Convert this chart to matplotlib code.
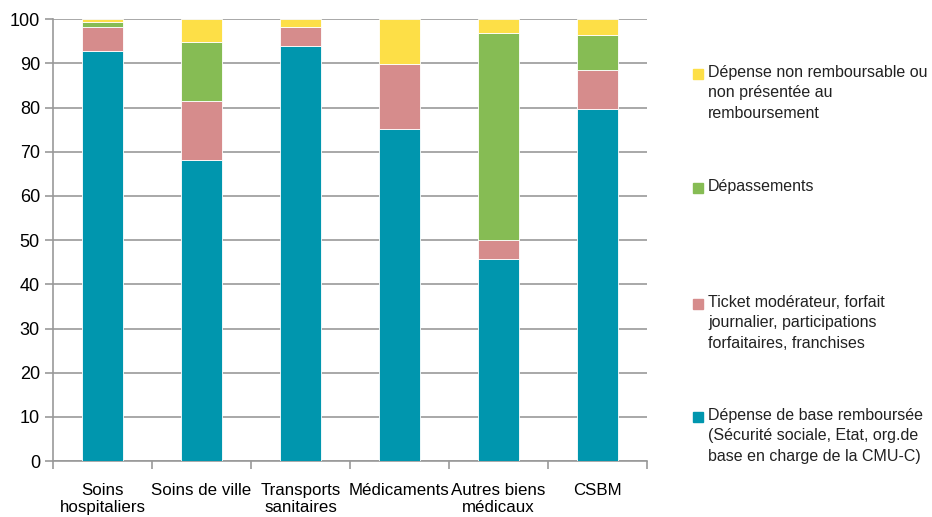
import numpy as np
import matplotlib.pyplot as plt
from matplotlib.patches import Rectangle

plt.rcParams['font.family'] = ['Liberation Sans', 'DejaVu Sans']

categories = ["Soins\nhospitaliers", "Soins de ville", "Transports\nsanitaires",
              "Médicaments", "Autres biens\nmédicaux", "CSBM"]
base_rembourse = [92.8, 68.1, 94.0, 75.1, 45.7, 79.7]
ticket_moderateur = [5.4, 13.3, 4.2, 14.8, 4.3, 8.9]
depassements = [1.1, 13.4, 0.0, 0.0, 46.9, 7.8]
non_remboursable = [0.7, 5.2, 1.8, 10.1, 3.1, 3.6]

series = [
    (base_rembourse, "#0096AE",
     "Dépense de base remboursée\n(Sécurité sociale, Etat, org.de\nbase en charge de la CMU-C)"),
    (ticket_moderateur, "#D68C8C",
     "Ticket modérateur, forfait\njournalier, participations\nforfaitaires, franchises"),
    (depassements, "#86BC54", "Dépassements"),
    (non_remboursable, "#FDDF47",
     "Dépense non remboursable ou\nnon présentée au\nremboursement"),
]

fig = plt.figure(figsize=(9.32, 5.17), dpi=100)
ax = fig.add_axes([0.057, 0.108, 0.637, 0.855])

x = np.arange(len(categories))
bottom = np.zeros(len(categories))
for vals, color, _ in series:
    ax.bar(x, vals, width=0.42, bottom=bottom, color=color,
           edgecolor="white", linewidth=0.6, zorder=3)
    bottom += np.array(vals)

ax.set_ylim(0, 100)
ax.set_xlim(-0.5, len(categories) - 0.5)
ax.set_yticks(range(0, 101, 10))
ax.yaxis.grid(True, color="#999999", linewidth=1.2, zorder=0)
ax.set_xticks(x)
ax.set_xticklabels(categories, fontsize=12.2, linespacing=1.15)
ax.set_xticks(np.arange(-0.5, len(categories)), minor=True)
ax.tick_params(axis="x", which="major", length=0, pad=16)
ax.tick_params(axis="x", which="minor", length=6, color="#999999", width=1.2)
ax.tick_params(axis="y", length=6, color="#999999", width=1.2, labelsize=13)
for side in ["top", "right"]:
    ax.spines[side].set_visible(False)
for side in ["left", "bottom"]:
    ax.spines[side].set_color("#999999")
    ax.spines[side].set_linewidth(1.2)

# legend drawn by hand, top to bottom
legend_rows = [68, 182, 298, 411]
for (vals, color, label), ytop in zip(series[::-1], legend_rows):
    fig.patches.append(Rectangle((693 / 932, 1 - (ytop + 11) / 517), 10 / 932, 10 / 517,
                                 transform=fig.transFigure, color=color))
    fig.text(708 / 932, 1 - (ytop - 3) / 517, label, fontsize=11.5,
             va="top", ha="left", linespacing=1.45, color="#222222")

fig.savefig("out.png", dpi=100)
